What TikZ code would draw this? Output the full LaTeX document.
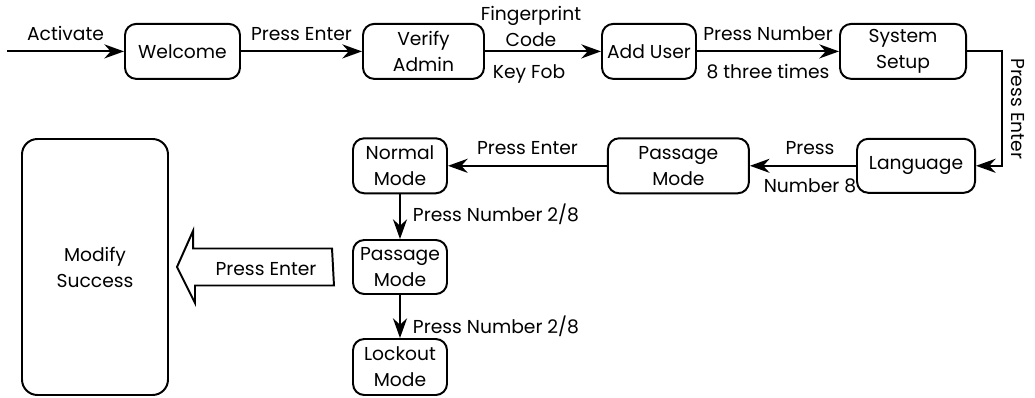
\documentclass[tikz,border=0pt]{standalone}
\usepackage{fontspec}
\setmainfont{Poppins}
\usetikzlibrary{arrows.meta, positioning, calc}

\begin{document}
\begin{tikzpicture}[
    % Stili per i riquadri
    state/.style={rectangle, rounded corners=8pt, draw, line width=1.4pt, align=center, inner sep=2pt, font=\fontsize{13.3}{18.5}\selectfont},
    bigstate/.style={state, rounded corners=11pt},
    % Stili per le connessioni
    flow/.style={-{Stealth[length=14pt, width=10pt, inset=4.5pt]}, line width=1.4pt},
    % Stili per il testo
    flowtext/.style={inner sep=0pt, align=center, font=\fontsize{13.3}{18.5}\selectfont}
]
\useasboundingbox (0,0) rectangle (25.875,9.925);

% === RIGA SUPERIORE ===
\coordinate (start) at (0.175,8.64);
\node[state, minimum width=2.875cm, minimum height=1.375cm] (welcome) at (4.5625,8.64) {Welcome};
\node[state, minimum width=3.025cm, minimum height=1.375cm] (verify) at (10.5875,8.64) {Verify\\Admin};
\node[state, minimum width=2.35cm, minimum height=1.375cm] (adduser) at (16.225,8.64) {Add User};
\node[state, minimum width=3.15cm, minimum height=1.375cm] (setup) at (22.575,8.64) {System\\Setup};

% === RIGA CENTRALE ===
\node[state, minimum width=2.95cm, minimum height=1.35cm] (lang) at (22.9,5.78) {Language};
\node[state, minimum width=3.525cm, minimum height=1.375cm] (psg) at (16.96,5.78) {Passage\\Mode};
\node[state, minimum width=2.35cm, minimum height=1.375cm] (normal) at (10,5.78) {Normal\\Mode};

% === COLONNA DEI MODI ===
\node[state, minimum width=2.35cm, minimum height=1.35cm] (psg2) at (10,3.25) {Passage\\Mode};
\node[state, minimum width=2.35cm, minimum height=1.4cm] (lock) at (10,0.75) {Lockout\\Mode};

% === ESITO ===
\node[bigstate, minimum width=3.65cm, minimum height=6.4cm] (modify) at (2.375,3.25) {Modify\\Success};

% === CONNESSIONI ===
\draw[flow] (start) -- node[flowtext, above=0.25cm] {Activate} (welcome);
\draw[flow] (welcome) -- node[flowtext, above=0.25cm] {Press Enter} (verify);
\draw[flow] (verify) -- node[flowtext, above=0.1cm, xshift=-3mm] {Fingerprint\\Code} node[flowtext, below=0.3cm, xshift=-3.5mm] {Key Fob} (adduser);
\draw[flow] (adduser) -- node[flowtext, above=0.25cm] {Press Number} node[flowtext, below=0.3cm] {8 three times} (setup);

\coordinate (turn) at ($(setup.east)+(0.875,0)$);
\draw[flow] (setup.east) -- (turn) |- node[flowtext, pos=0.25, anchor=south, rotate=-90, inner sep=0.2cm] {Press Enter} (lang.east);

\draw[flow] (lang) -- node[flowtext, above=0.25cm, xshift=1.75mm] {Press} node[flowtext, below=0.3cm, xshift=1.75mm] {Number 8} (psg);
\draw[flow] (psg) -- node[flowtext, above=0.25cm] {Press Enter} (normal);
\draw[flow] (normal) -- node[flowtext, right=0.3cm, pos=0.45] {Press Number 2/8} (psg2);
\draw[flow] (psg2) -- node[flowtext, right=0.3cm, pos=0.73] {Press Number 2/8} (lock);

% === FRECCIA A BLOCCO ===
\coordinate (tail) at ($(psg2.west)+(-0.5,0)$);
\coordinate (tip) at ($(modify.east)+(0.2,0)$);
\draw[line width=1.4pt] (tail) ++(0,0.4625) -- ++(-3.475,0) -- ++(0,0.4375) -- (tip) -- ++(0.45,-0.9) -- ++(0,0.4375) -- ++(3.475,0) -- cycle;
\node[flowtext] (entertext) at ($(tail)+(-1.65,-0.04)$) {Press Enter};

\end{tikzpicture}
\end{document}
